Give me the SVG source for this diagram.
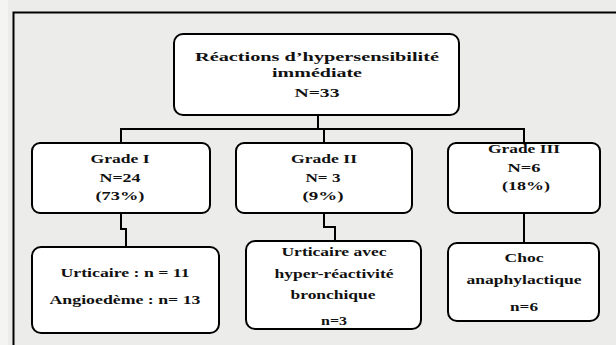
<svg xmlns="http://www.w3.org/2000/svg" width="616" height="345" viewBox="0 0 616 345">
<style>
.box{fill:#ffffff;stroke:#000000;stroke-width:2}
.ln{fill:none;stroke:#000000;stroke-width:2}
text{font-family:"Liberation Serif","Times New Roman",serif;font-weight:bold;font-size:13.5px;fill:#111111;text-anchor:middle}
</style>
<rect x="0" y="0" width="616" height="345" fill="#ecedea"/>
<rect x="0" y="0" width="8" height="345" fill="#f4f4f2"/>
<path class="ln" d="M13.5,345 V12.5 H616"/>
<g id="connectors">
<path class="ln" d="M318,115 V129 M121,143 V129 H524 V143 M324,129 V143"/>
<path class="ln" d="M121,213 V229 H126 V247"/>
<path class="ln" d="M324,213 V227 H335 V241"/>
<path class="ln" d="M524,213 V243"/>
</g>
<g id="root">
<rect class="box" x="174" y="34" width="285" height="81" rx="9"/>
<text x="317" y="61" textLength="244" lengthAdjust="spacingAndGlyphs">Réactions d’hypersensibilité</text>
<text x="317" y="77" textLength="90" lengthAdjust="spacingAndGlyphs">immédiate</text>
<text x="317" y="97" textLength="45" lengthAdjust="spacingAndGlyphs">N=33</text>
</g>
<g id="grade1">
<rect class="box" x="32" y="143" width="178" height="70" rx="8"/>
<text x="120" y="163" textLength="59" lengthAdjust="spacingAndGlyphs">Grade I</text>
<text x="120" y="182" textLength="41" lengthAdjust="spacingAndGlyphs">N=24</text>
<text x="120" y="200" textLength="49" lengthAdjust="spacingAndGlyphs">(73%)</text>
</g>
<g id="grade2">
<rect class="box" x="236" y="143" width="176" height="70" rx="8"/>
<text x="324" y="163" textLength="66" lengthAdjust="spacingAndGlyphs">Grade II</text>
<text x="323" y="182" textLength="35" lengthAdjust="spacingAndGlyphs">N= 3</text>
<text x="323" y="200" textLength="41" lengthAdjust="spacingAndGlyphs">(9%)</text>
</g>
<g id="grade3">
<rect class="box" x="448" y="143" width="152" height="70" rx="8"/>
<text x="524" y="153" textLength="72" lengthAdjust="spacingAndGlyphs">Grade III</text>
<text x="524" y="172" textLength="33" lengthAdjust="spacingAndGlyphs">N=6</text>
<text x="526" y="190" textLength="48" lengthAdjust="spacingAndGlyphs">(18%)</text>
</g>
<g id="detail1">
<rect class="box" x="32" y="247" width="187" height="86" rx="9"/>
<text x="125" y="277" textLength="129" lengthAdjust="spacingAndGlyphs">Urticaire : n = 11</text>
<text x="125" y="304" textLength="151" lengthAdjust="spacingAndGlyphs">Angioedème : n= 13</text>
</g>
<g id="detail2">
<rect class="box" x="246" y="241" width="175" height="88" rx="9"/>
<text x="334" y="256" textLength="105" lengthAdjust="spacingAndGlyphs">Urticaire avec</text>
<text x="334" y="278" textLength="119" lengthAdjust="spacingAndGlyphs">hyper-réactivité</text>
<text x="333" y="299" textLength="85" lengthAdjust="spacingAndGlyphs">bronchique</text>
<text x="334" y="325" textLength="26" lengthAdjust="spacingAndGlyphs">n=3</text>
</g>
<g id="detail3">
<rect class="box" x="448" y="243" width="151" height="78" rx="9"/>
<text x="524" y="262" textLength="39" lengthAdjust="spacingAndGlyphs">Choc</text>
<text x="524" y="284" textLength="115" lengthAdjust="spacingAndGlyphs">anaphylactique</text>
<text x="524" y="311" textLength="28" lengthAdjust="spacingAndGlyphs">n=6</text>
</g>
</svg>
